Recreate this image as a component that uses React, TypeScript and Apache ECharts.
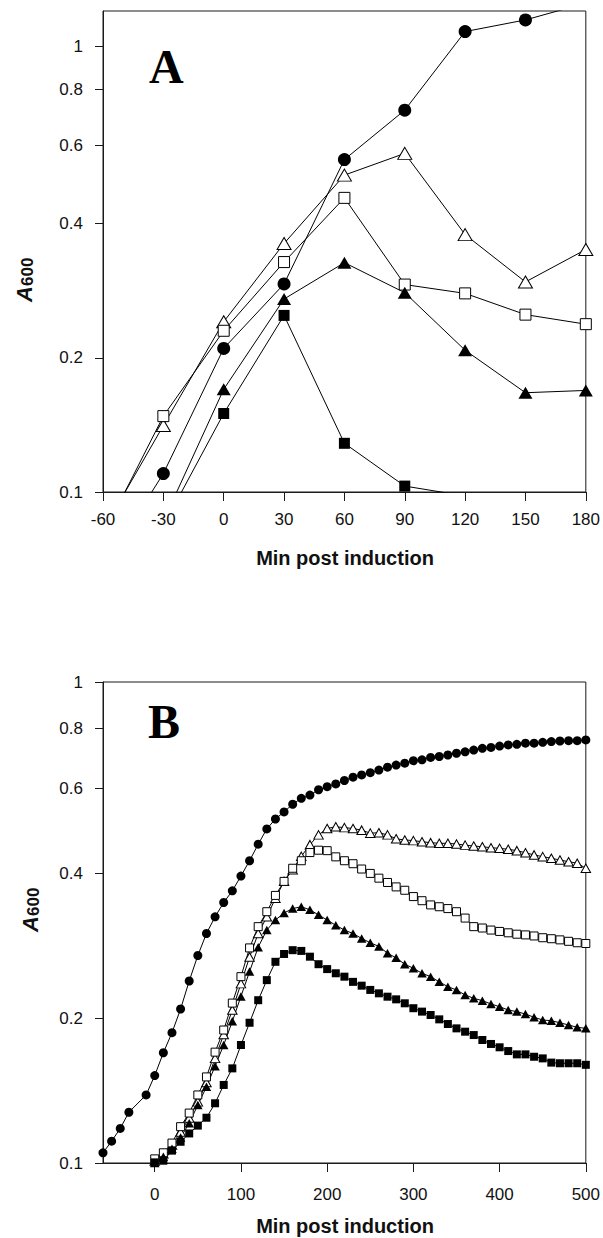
import React, { useEffect, useRef } from "react";
import * as echarts from "echarts";

// ---------- Panel A data (minutes post induction, A600) ----------
const timesA = [-60, -30, 0, 30, 60, 90, 120, 150, 180];
const aFilledCircle = [0.067, 0.11, 0.21, 0.293, 0.557, 0.719, 1.079, 1.146, 1.25];
const aOpenTriangle = [0.082, 0.141, 0.241, 0.361, 0.514, 0.575, 0.378, 0.296, 0.35];
const aOpenSquare = [0.08, 0.148, 0.23, 0.328, 0.457, 0.292, 0.279, 0.25, 0.238];
const timesAFilledTri = [-30, 0, 30, 60, 90, 120, 150, 180];
const aFilledTriangle = [0.086, 0.17, 0.271, 0.327, 0.28, 0.208, 0.167, 0.169];
const timesAFilledSq = [-30, 0, 30, 60, 90, 120];
const aFilledSquare = [0.084, 0.15, 0.249, 0.1286, 0.1031, 0.098];

// ---------- Panel B data ----------
const timesBCircle = [
  -60, -50, -40, -30, -10, 0, 10, 20, 30, 40, 50, 60, 70, 80, 90, 100, 110, 120, 130, 140, 150,
  160, 170, 180, 190, 200, 210, 220, 230, 240, 250, 260, 270, 280, 290, 300, 310, 320, 330, 340,
  350, 360, 370, 380, 390, 400, 410, 420, 430, 440, 450, 460, 470, 480, 490, 500,
];
const bFilledCircle = [
  0.105, 0.111, 0.118, 0.1275, 0.1385, 0.152, 0.1695, 0.1866, 0.209, 0.239, 0.27, 0.3, 0.325,
  0.348, 0.368, 0.395, 0.425, 0.46, 0.495, 0.519, 0.537, 0.557, 0.573, 0.582, 0.597, 0.606, 0.614,
  0.624, 0.634, 0.641, 0.648, 0.656, 0.665, 0.672, 0.678, 0.686, 0.689, 0.697, 0.7, 0.705, 0.711,
  0.716, 0.722, 0.728, 0.731, 0.736, 0.74, 0.742, 0.746, 0.746, 0.749, 0.752, 0.754, 0.755, 0.755,
  0.758,
];
const timesB = [
  0, 10, 20, 30, 40, 50, 60, 70, 80, 90, 100, 110, 120, 130, 140, 150, 160, 170, 180, 190, 200,
  210, 220, 230, 240, 250, 260, 270, 280, 290, 300, 310, 320, 330, 340, 350, 360, 370, 380, 390,
  400, 410, 420, 430, 440, 450, 460, 470, 480, 490, 500,
];
const bOpenTriangle = [
  0.101, 0.1045, 0.109, 0.116, 0.124, 0.134, 0.147, 0.165, 0.185, 0.208, 0.236, 0.268, 0.3, 0.325,
  0.355, 0.385, 0.407, 0.434, 0.459, 0.481, 0.496, 0.5, 0.498, 0.496, 0.492, 0.485, 0.486, 0.481,
  0.472, 0.4695, 0.468, 0.4656, 0.4634, 0.462, 0.462, 0.4605, 0.458, 0.456, 0.4545, 0.4524, 0.451,
  0.449, 0.446, 0.4416, 0.437, 0.4334, 0.43, 0.4266, 0.423, 0.42, 0.41,
];
const bOpenSquare = [
  0.102, 0.105, 0.11, 0.119, 0.127, 0.1385, 0.151, 0.17, 0.189, 0.215, 0.244, 0.28, 0.31, 0.333,
  0.36, 0.385, 0.41, 0.425, 0.442, 0.447, 0.446, 0.433, 0.425, 0.419, 0.4085, 0.4, 0.391, 0.383,
  0.375, 0.369, 0.358, 0.351, 0.344, 0.341, 0.338, 0.333, 0.323, 0.31, 0.308, 0.305, 0.303, 0.301,
  0.299, 0.298, 0.2965, 0.294, 0.2926, 0.291, 0.289, 0.287, 0.286,
];
const bFilledTriangle = [
  0.1, 0.103, 0.107, 0.113, 0.121, 0.132, 0.144, 0.159, 0.176, 0.197, 0.222, 0.25, 0.281, 0.305,
  0.32, 0.331, 0.338, 0.341, 0.336, 0.328, 0.32, 0.312, 0.305, 0.3, 0.293, 0.287, 0.282, 0.273,
  0.267, 0.259, 0.254, 0.248, 0.244, 0.238, 0.2326, 0.229, 0.2235, 0.22, 0.2175, 0.2141, 0.2113,
  0.208, 0.2064, 0.204, 0.2009, 0.1983, 0.1976, 0.1957, 0.1936, 0.1915, 0.1905,
];
const bFilledSquare = [
  0.1003, 0.1011, 0.1061, 0.1107, 0.1152, 0.1196, 0.1242, 0.1331, 0.1453, 0.1573, 0.1759, 0.1957,
  0.218, 0.24, 0.262, 0.272, 0.277, 0.276, 0.2685, 0.259, 0.253, 0.248, 0.244, 0.238, 0.2337, 0.229,
  0.2253, 0.2217, 0.2189, 0.2148, 0.2098, 0.2064, 0.2031, 0.1989, 0.1945, 0.1905, 0.1875, 0.1845,
  0.1802, 0.1768, 0.174, 0.1709, 0.1682, 0.1682, 0.1663, 0.165, 0.1617, 0.1612, 0.1612, 0.1612, 0.16,
];

// ---------- Axis ticks ----------
const yTickValues = [0.1, 0.2, 0.4, 0.6, 0.8, 1];
const xTicksB = [0, 100, 200, 300, 400, 500];

const FONT = "'Liberation Sans', Arial, Helvetica, sans-serif";
const SERIF = "'Liberation Serif', 'Times New Roman', serif";
const INK = "#1a1a1a";

const toPairs = (xs: number[], ys: number[]) => xs.map((x, i) => [x, Math.log10(ys[i])]);

function mkSeries(
  name: string,
  xs: number[],
  ys: number[],
  symbol: string,
  size: number | number[],
  filled: boolean,
  idx: number
) {
  return {
    name,
    type: "line",
    xAxisIndex: idx,
    yAxisIndex: idx,
    data: toPairs(xs, ys),
    symbol,
    symbolSize: size,
    showSymbol: true,
    showAllSymbol: true,
    clip: true,
    silent: true,
    lineStyle: { color: "#000", width: 1 },
    itemStyle: {
      color: filled ? "#000" : "#fff",
      borderColor: "#000",
      borderWidth: filled ? 0 : 1,
    },
    emphasis: { disabled: true },
  };
}

const fmtLog = (v: number) => String(Number(Math.pow(10, v).toFixed(2)));

function yAxisDef(idx: number, maxVal: number) {
  const logs = yTickValues.map((v) => Math.log10(v));
  return {
    gridIndex: idx,
    type: "value",
    min: -1,
    max: Math.log10(maxVal),
    axisLine: { show: true, onZero: false, lineStyle: { color: INK, width: 1 } },
    axisTick: { show: true, length: 8, customValues: logs, lineStyle: { color: INK, width: 1 } },
    axisLabel: {
      customValues: logs,
      formatter: fmtLog,
      margin: 20,
      fontSize: 17,
      color: "#111",
      fontFamily: FONT,
    },
    splitLine: { show: false },
  };
}

function yTitle(cx: number, cy: number) {
  return {
    type: "group",
    x: cx,
    y: cy,
    rotation: Math.PI / 2,
    children: [
      {
        type: "text",
        x: -24,
        y: 0,
        style: {
          text: "A",
          fontSize: 22,
          fontStyle: "italic",
          fontWeight: "bold",
          fontFamily: FONT,
          fill: "#111",
          align: "left",
          verticalAlign: "middle",
        },
      },
      {
        type: "text",
        x: -8,
        y: 3,
        style: {
          text: "600",
          fontSize: 17,
          fontWeight: "bold",
          fontFamily: FONT,
          fill: "#111",
          align: "left",
          verticalAlign: "middle",
        },
      },
    ],
  };
}

export default function App() {
  const ref = useRef<HTMLDivElement>(null);
  useEffect(() => {
    if (!ref.current) return;
    const chart = echarts.init(ref.current, null, { renderer: "svg" });
    const axisLine = { show: true, onZero: false, lineStyle: { color: INK, width: 1 } };
    const tickStyle = { color: INK, width: 1 };
    const labelBase = { fontSize: 17, color: "#111", fontFamily: FONT };
    chart.setOption({
      animation: false,
      backgroundColor: "#fff",
      grid: [
        { left: 103, top: 11, width: 484, height: 481, show: true, borderColor: INK, borderWidth: 1, backgroundColor: "transparent" },
        { left: 103, top: 682, width: 484, height: 481, show: true, borderColor: INK, borderWidth: 1, backgroundColor: "transparent" },
      ],
      xAxis: [
        {
          gridIndex: 0,
          type: "value",
          min: -60,
          max: 180,
          interval: 30,
          axisLine,
          axisTick: { show: true, length: 9, lineStyle: tickStyle },
          axisLabel: { ...labelBase, margin: 19 },
          splitLine: { show: false },
        },
        {
          gridIndex: 1,
          type: "value",
          min: -60,
          max: 500,
          axisLine,
          axisTick: { show: true, length: 9, customValues: xTicksB, lineStyle: tickStyle },
          axisLabel: { ...labelBase, margin: 23, customValues: xTicksB },
          splitLine: { show: false },
        },
      ],
      yAxis: [yAxisDef(0, 1.2), yAxisDef(1, 1)],
      series: [
        mkSeries("A-circle", timesA, aFilledCircle, "circle", 13, true, 0),
        mkSeries("A-open-tri", timesA, aOpenTriangle, "triangle", [14, 12], false, 0),
        mkSeries("A-open-sq", timesA, aOpenSquare, "rect", 11, false, 0),
        mkSeries("A-filled-tri", timesAFilledTri, aFilledTriangle, "triangle", [14, 12], true, 0),
        mkSeries("A-filled-sq", timesAFilledSq, aFilledSquare, "rect", 11, true, 0),
        mkSeries("B-circle", timesBCircle, bFilledCircle, "circle", 9, true, 1),
        mkSeries("B-open-tri", timesB, bOpenTriangle, "triangle", [9.5, 8.5], false, 1),
        mkSeries("B-open-sq", timesB, bOpenSquare, "rect", 8, false, 1),
        mkSeries("B-filled-tri", timesB, bFilledTriangle, "triangle", [9.5, 8.5], true, 1),
        mkSeries("B-filled-sq", timesB, bFilledSquare, "rect", 8, true, 1),
      ],
      graphic: [
        {
          type: "text",
          x: 149,
          y: 66,
          style: { text: "A", fontSize: 48, fontWeight: "bold", fontFamily: SERIF, fill: "#000", align: "left", verticalAlign: "middle" },
        },
        {
          type: "text",
          x: 148,
          y: 721,
          style: { text: "B", fontSize: 48, fontWeight: "bold", fontFamily: SERIF, fill: "#000", align: "left", verticalAlign: "middle" },
        },
        {
          type: "text",
          x: 345,
          y: 558,
          style: { text: "Min post induction", fontSize: 20, fontWeight: "bold", fontFamily: FONT, fill: "#111", align: "center", verticalAlign: "middle" },
        },
        {
          type: "text",
          x: 345,
          y: 1226,
          style: { text: "Min post induction", fontSize: 20, fontWeight: "bold", fontFamily: FONT, fill: "#111", align: "center", verticalAlign: "middle" },
        },
        yTitle(24, 278),
        yTitle(30, 908),
      ],
    });
    return () => chart.dispose();
  }, []);
  return (
    <div
      ref={ref}
      style={{ position: "absolute", left: 0, top: 0, width: 603, height: 1238 }}
    />
  );
}
